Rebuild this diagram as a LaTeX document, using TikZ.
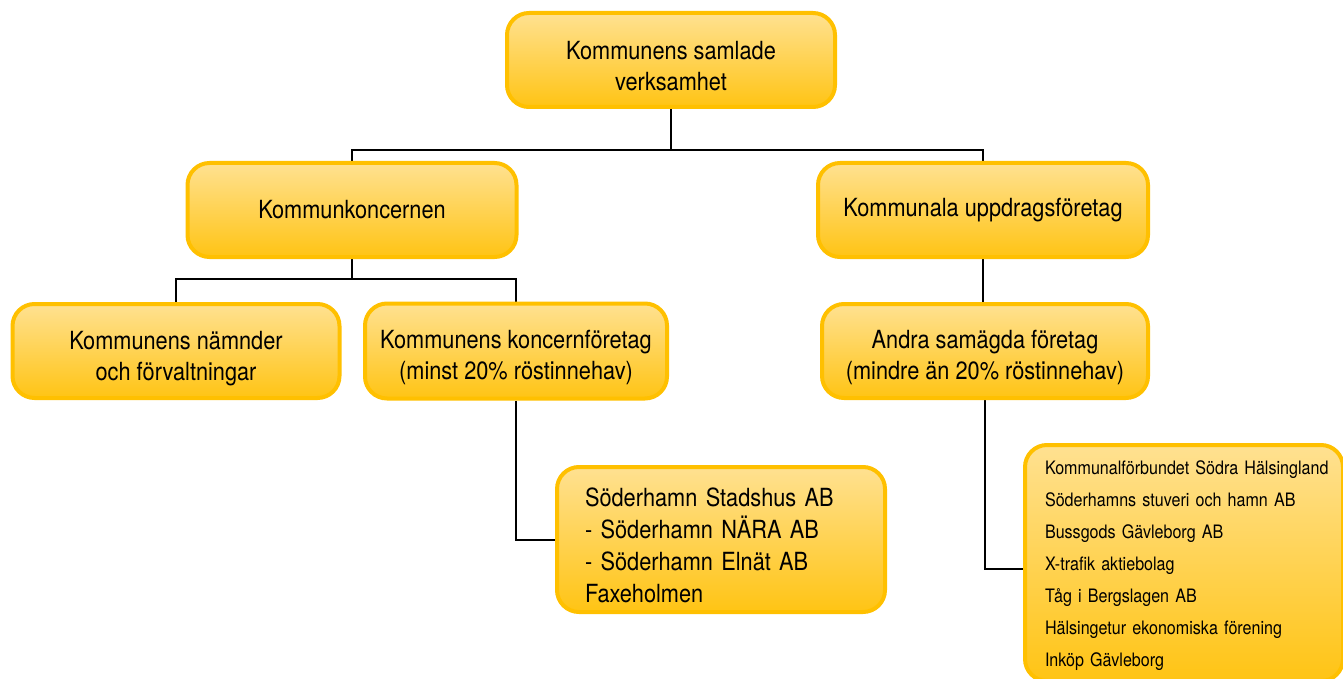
\documentclass[tikz,border=0pt]{standalone}
\usepackage{fontspec}
\setmainfont{TeX Gyre Heros}[FakeStretch=0.87]
\usepackage{tikz}
\usetikzlibrary{positioning, backgrounds, calc}

\definecolor{boxedge}{RGB}{255,192,0}
\definecolor{boxtop}{RGB}{255,225,145}
\definecolor{boxbot}{RGB}{255,196,20}

% pushes a two-line text a little lower in its box
\newcommand{\lowertext}[1][31pt]{\rule{0pt}{#1}}

\tikzset{
  orgbox/.style={draw=boxedge, line width=4pt, rounded corners=22pt,
    top color=boxtop, bottom color=boxbot, inner sep=0pt,
    align=center, font=\fontsize{25}{31}\selectfont},
  listbox/.style={orgbox, align=left, anchor=north west},
  link/.style={line width=2pt, black}
}

\begin{document}
\begin{tikzpicture}[x=1pt, y=-1pt]
    \useasboundingbox (0,0) rectangle (1343,679);
    % top level
    \node[orgbox, minimum width=328pt, minimum height=94pt] (total) at (671,60)
      {\lowertext Kommunens samlade\\verksamhet};
    % second level
    \node[orgbox, minimum width=329pt, minimum height=94pt] (koncern) at (352,210)
      {Kommunkoncernen};
    \node[orgbox, minimum width=330pt, minimum height=94pt] (uppdrag) at (983,210)
      {Kommunala uppdragsföretag};
    % third level
    \node[orgbox, minimum width=327pt, minimum height=94pt] (namnder) at (176,351)
      {\lowertext[34pt]Kommunens nämnder\\och förvaltningar};
    \node[orgbox, minimum width=302pt, minimum height=95pt] (koncernftg) at (516,351)
      {\lowertext Kommunens koncernföretag\\(minst 20\% röstinnehav)};
    \node[orgbox, minimum width=326pt, minimum height=94pt] (samagda) at (985,351)
      {\lowertext Andra samägda företag\\(mindre än 20\% röstinnehav)};
    % lists
    \node[listbox, text width=272pt, inner xsep=28pt, minimum height=145pt,
      font=\fontsize{25}{32}\selectfont] (stadshus) at (555,465)
      {\lowertext[30pt]Söderhamn Stadshus AB\\- Söderhamn NÄRA AB\\- Söderhamn Elnät AB\\Faxeholmen};
    \node[listbox, text width=312pt, inner xsep=3pt, minimum height=236pt,
      font=\fontsize{18.5}{32}\selectfont,
      execute at begin node={\leftskip=17pt}] (ovriga) at (1023,443)
      {\lowertext[20pt]Kommunalförbundet Södra Hälsingland\\Söderhamns stuveri och hamn AB\\
       Bussgods Gävleborg AB\\X-trafik aktiebolag\\Tåg i Bergslagen AB\\
       Hälsingetur ekonomiska förening\\Inköp Gävleborg};
    % connectors
    \begin{scope}[on background layer]
      \coordinate (bus1) at (total.south |- 0,150);
      \coordinate (bus2) at (koncern.south |- 0,279);
      \draw[link] (total.south) -- (bus1);
      \draw[link] (bus1) -| (koncern.north);
      \draw[link] (bus1) -| (uppdrag.north);
      \draw[link] (koncern.south) -- (bus2);
      \draw[link] (bus2) -| (namnder.north);
      \draw[link] (bus2) -| (koncernftg.north);
      \draw[link] (koncernftg.south) |- (stadshus.west);
      \draw[link] (uppdrag.south) -- (uppdrag.south |- samagda.north);
      \draw[link] (samagda.south) |- ($(ovriga.west)+(0,6)$);
    \end{scope}
\end{tikzpicture}
\end{document}
